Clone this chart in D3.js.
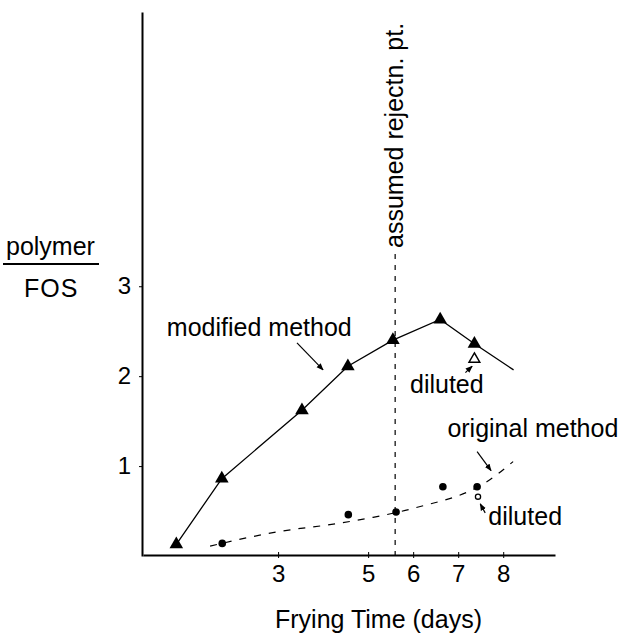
<!DOCTYPE html>
<html>
<head>
<meta charset="utf-8">
<script src="https://d3js.org/d3.v7.min.js"></script>
<style>
  body { margin: 0; background: #fff; }
  text { font-family: "Liberation Sans", Arial, sans-serif; fill: #000; }
</style>
</head>
<body>
<div id="chart"></div>
<script>
// modified method (filled triangles)
var modDays = [0.74, 1.75, 3.53, 4.55, 5.55, 6.6, 7.36];
var modValues = [0.13, 0.86, 1.62, 2.11, 2.40, 2.63, 2.36];
// solid line runs on past the last point
var modLineEnd = [8.23, 2.07];
var modDiluted = [7.36, 2.19];

// original method (filled dots)
var origDays = [1.76, 4.56, 5.62, 6.66, 7.42];
var origValues = [0.14, 0.46, 0.49, 0.77, 0.77];
var origDiluted = [7.44, 0.66];

// dashed trend curve of original method
var curveDays = [1.49, 3.0, 4.3, 5.11, 6.0, 7.71, 8.22];
var curveValues = [0.11, 0.27, 0.36, 0.43, 0.53, 0.85, 1.05];

var rejectDay = 5.6;

var xTicks = [3, 5, 6, 7, 8];
var yTicks = [1, 2, 3];

function buildChart(containerId) {
    var width = 620;
    var height = 636;

    var svg = d3
        .select(containerId)
        .append('svg')
        .attr('width', width)
        .attr('height', height);

    var x = d3.scaleLinear().domain([0, 9.15]).range([143, 555]);
    var y = d3.scaleLinear().domain([0, 6.05]).range([556, 12]);

    // arrow head
    svg.append('defs')
        .append('marker')
        .attr('id', 'head')
        .attr('viewBox', '0 0 10 10')
        .attr('refX', 9)
        .attr('refY', 5)
        .attr('markerWidth', 6)
        .attr('markerHeight', 6)
        .attr('orient', 'auto')
        .append('path')
        .attr('d', 'M0,1 L10,5 L0,9 Z')
        .style('fill', '#000');

    // axes
    var xAxis = d3.axisBottom(x)
        .tickValues(xTicks)
        .tickSizeInner(4)
        .tickSizeOuter(0)
        .tickPadding(6)
        .tickFormat(d3.format('d'));

    var gx = svg.append('g')
        .attr('transform', 'translate(0,' + 555 + ')')
        .call(xAxis);
    gx.select('.domain').style('stroke-width', 2);
    gx.selectAll('.tick line').attr('y1', -3).attr('y2', 3);
    gx.selectAll('.tick text')
        .style('font-size', '24px')
        .style('font-family', '"Liberation Sans", Arial, sans-serif');

    var yAxis = d3.axisLeft(y)
        .tickValues(yTicks)
        .tickSizeInner(3)
        .tickSizeOuter(0)
        .tickPadding(8)
        .tickFormat(d3.format('d'));

    var gy = svg.append('g')
        .attr('transform', 'translate(' + 142 + ',0)')
        .call(yAxis);
    gy.select('.domain').style('stroke-width', 2);
    gy.selectAll('.tick text')
        .style('font-size', '24px')
        .style('font-family', '"Liberation Sans", Arial, sans-serif');

    // y label as fraction
    svg.append('text')
        .attr('x', 6)
        .attr('y', 255)
        .style('font-size', '25px')
        .text('polymer');
    svg.append('line')
        .attr('x1', 3).attr('x2', 99)
        .attr('y1', 264).attr('y2', 264)
        .style('stroke', '#000')
        .style('stroke-width', 1.8);
    svg.append('text')
        .attr('x', 24)
        .attr('y', 297)
        .style('font-size', '25px')
        .style('letter-spacing', '1px')
        .text('FOS');

    // x label
    svg.append('text')
        .attr('x', 275)
        .attr('y', 628)
        .style('font-size', '25px')
        .text('Frying Time (days)');

    // rejection point
    svg.append('line')
        .attr('x1', x(rejectDay)).attr('x2', x(rejectDay))
        .attr('y1', y(0)).attr('y2', 250)
        .style('stroke', '#000')
        .style('stroke-width', 1.2)
        .style('stroke-dasharray', '5,6');
    svg.append('text')
        .attr('transform', 'translate(' + (x(rejectDay) + 8) + ',' + 248 + ') rotate(-90)')
        .style('font-size', '25px')
        .text('assumed rejectn. pt.');

    // original method dashed curve
    var curvePts = curveDays.map(function (d, i) { return [d, curveValues[i]]; });
    var curveLine = d3.line()
        .x(function (d) { return x(d[0]); })
        .y(function (d) { return y(d[1]); })
        .curve(d3.curveMonotoneX);
    svg.append('path')
        .attr('d', curveLine(curvePts))
        .style('fill', 'none')
        .style('stroke', '#000')
        .style('stroke-width', 1.2)
        .style('stroke-dasharray', '7,8');

    // modified method line
    var modPts = modDays.map(function (d, i) { return [d, modValues[i]]; });
    var line = d3.line()
        .x(function (d) { return x(d[0]); })
        .y(function (d) { return y(d[1]); });
    svg.append('path')
        .attr('d', line(modPts.concat([modLineEnd])))
        .style('fill', 'none')
        .style('stroke', '#000')
        .style('stroke-width', 1.3);

    var tri = d3.symbol().type(d3.symbolTriangle).size(80);
    svg.selectAll('.tri')
        .data(modPts)
        .enter()
        .append('path')
        .attr('class', 'tri')
        .attr('d', tri)
        .attr('transform', function (d) { return 'translate(' + x(d[0]) + ',' + y(d[1]) + ')'; })
        .style('fill', '#000');

    svg.append('path')
        .attr('d', d3.symbol().type(d3.symbolTriangle).size(50)())
        .attr('transform', 'translate(' + x(modDiluted[0]) + ',' + y(modDiluted[1]) + ')')
        .style('fill', '#fff')
        .style('stroke', '#000')
        .style('stroke-width', 1.5);

    var origPts = origDays.map(function (d, i) { return [d, origValues[i]]; });
    svg.selectAll('.dot')
        .data(origPts)
        .enter()
        .append('circle')
        .attr('class', 'dot')
        .attr('cx', function (d) { return x(d[0]); })
        .attr('cy', function (d) { return y(d[1]); })
        .attr('r', 3.8)
        .style('fill', '#000');

    svg.append('circle')
        .attr('cx', x(origDiluted[0]))
        .attr('cy', y(origDiluted[1]))
        .attr('r', 2.6)
        .style('fill', '#fff')
        .style('stroke', '#000')
        .style('stroke-width', 1.3);

    // annotations
    var notes = [
        { text: 'modified method', at: [0.53, 2.45] },
        { text: 'diluted', at: [5.93, 1.81] },
        { text: 'original method', at: [6.76, 1.32] },
        { text: 'diluted', at: [7.67, 0.345] }
    ];
    svg.selectAll('.note')
        .data(notes)
        .enter()
        .append('text')
        .attr('class', 'note')
        .attr('x', function (d) { return x(d.at[0]); })
        .attr('y', function (d) { return y(d.at[1]); })
        .style('font-size', '25px')
        .text(function (d) { return d.text; });

    var arrows = [
        [[3.42, 2.37], [4.0, 2.07]],
        [[7.16, 2.04], [7.31, 2.11]],
        [[7.42, 1.16], [7.73, 0.95]],
        [[7.6, 0.48], [7.49, 0.58]]
    ];
    svg.selectAll('.arrow')
        .data(arrows)
        .enter()
        .append('line')
        .attr('class', 'arrow')
        .attr('x1', function (d) { return x(d[0][0]); })
        .attr('y1', function (d) { return y(d[0][1]); })
        .attr('x2', function (d) { return x(d[1][0]); })
        .attr('y2', function (d) { return y(d[1][1]); })
        .style('stroke', '#000')
        .style('stroke-width', 1.2)
        .attr('marker-end', 'url(#head)');
}

buildChart('#chart');
</script>
</body>
</html>
